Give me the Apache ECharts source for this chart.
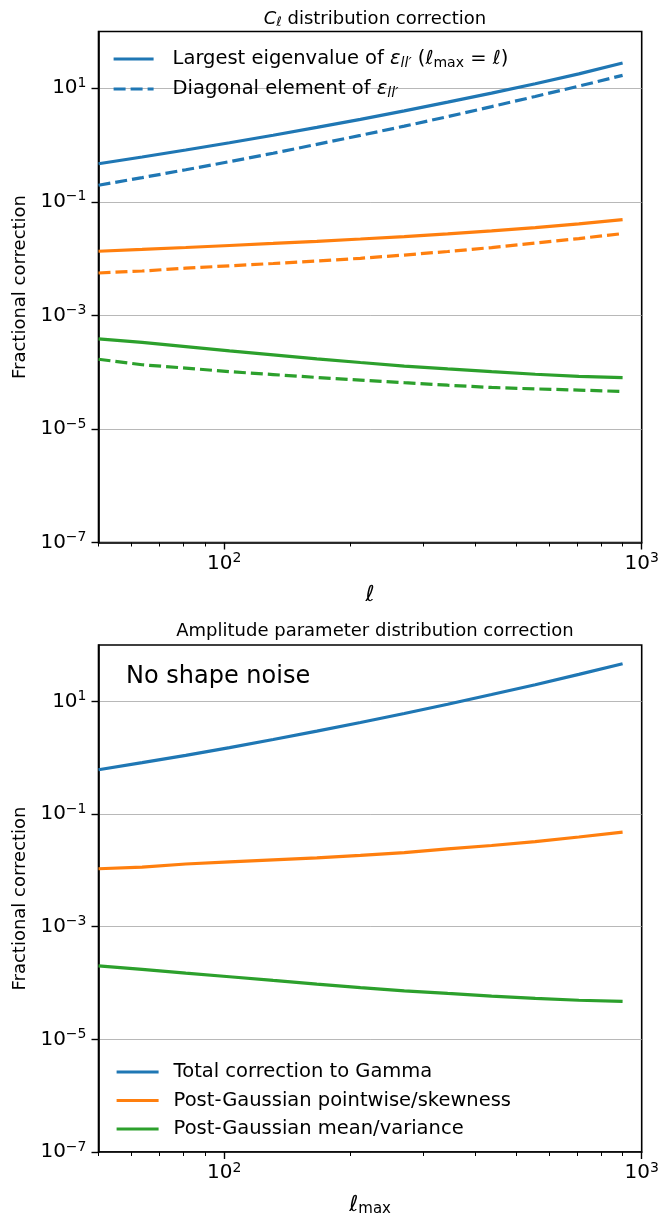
<!DOCTYPE html>
<html>
<head>
<meta charset="utf-8">
<script src="https://cdn.jsdelivr.net/npm/echarts@6/dist/echarts.min.js"></script>
<style>
  html, body { margin: 0; padding: 0; background: #fff; }
  #chart { width: 662px; height: 1218px; }
</style>
</head>
<body>
<div id="chart"></div>
<script>
// multipoles (x values, both panels)
const ell = [50, 63.6, 80.9, 103, 131, 166.7, 212, 270, 343, 437, 556, 707, 900];

// top panel: C_l distribution correction
const eigBlue   = [0.469, 0.615, 0.817, 1.10, 1.49, 2.05, 2.84, 4.0, 5.7, 8.2, 12.0, 17.9, 27.8];
const diagBlue  = [0.196, 0.267, 0.367, 0.510, 0.718, 1.03, 1.48, 2.15, 3.17, 4.75, 7.18, 10.9, 16.9];
const eigOrange = [0.01349, 0.01452, 0.01570, 0.01702, 0.01849, 0.02018, 0.02213, 0.02443, 0.02723, 0.03069, 0.03508, 0.04083, 0.04864];
const diagOrange = [0.00558, 0.00605, 0.00678, 0.00747, 0.00820, 0.00908, 0.01012, 0.01156, 0.01334, 0.01567, 0.01879, 0.02254, 0.02761];
const eigGreen  = [3.86e-4, 3.35e-4, 2.82e-4, 2.37e-4, 2.02e-4, 1.72e-4, 1.48e-4, 1.28e-4, 1.14e-4, 1.02e-4, 9.18e-5, 8.40e-5, 8.04e-5];
const diagGreen = [1.69e-4, 1.35e-4, 1.18e-4, 1.02e-4, 9.08e-5, 8.07e-5, 7.26e-5, 6.52e-5, 5.89e-5, 5.38e-5, 5.07e-5, 4.84e-5, 4.56e-5];

// bottom panel: amplitude parameter distribution correction
const totalGamma = [0.610, 0.815, 1.10, 1.51, 2.10, 2.96, 4.21, 6.08, 8.89, 13.2, 19.7, 30.1, 46.4];
const pointSkew  = [0.01066, 0.01138, 0.01295, 0.01410, 0.01531, 0.01665, 0.01841, 0.02056, 0.02399, 0.02761, 0.03236, 0.03909, 0.04766];
const meanVar    = [2.02e-4, 1.75e-4, 1.50e-4, 1.29e-4, 1.11e-4, 9.57e-5, 8.30e-5, 7.26e-5, 6.52e-5, 5.86e-5, 5.35e-5, 4.94e-5, 4.71e-5];

// ticks
const yTicks = [1e-7, 1e-5, 1e-3, 1e-1, 1e1];
const xMajor = [100, 1000];
const xMinor = [50, 60, 70, 80, 90, 200, 300, 400, 500, 600, 700, 800, 900];

const blue = '#1f77b4', orange = '#ff7f0e', green = '#2ca02c';
const FONT = 'DejaVu Sans';

const pow10 = v => {
  const e = Math.round(Math.log10(v));
  return '{b|10}{s|' + (e < 0 ? '\u2212' + (-e) : e) + '}';
};
const tickRich = {
  b: { fontSize: 20, fontFamily: FONT, color: '#000', lineHeight: 22 },
  s: { fontSize: 14, fontFamily: FONT, color: '#000', lineHeight: 14, padding: [0, 0, 10, 0] }
};
// italic / subscript tokens for the mathtext bits
const mathRich = (size) => {
  const small = Math.round(size * 0.7);
  const drop = Math.round(size * 0.4);
  return {
    i: { fontSize: size, fontFamily: FONT, fontStyle: 'italic', color: '#000', lineHeight: size + 4 },
    sb: { fontSize: small, fontFamily: FONT, fontStyle: 'italic', color: '#000', lineHeight: small, padding: [drop, 0, 0, 0] },
    r: { fontSize: small, fontFamily: FONT, color: '#000', lineHeight: small, padding: [drop, 0, 0, 0] }
  };
};

const pts = arr => arr.map((v, i) => [ell[i], v]);

function xAxes(gi, nameText) {
  return [
    {
      type: 'log', gridIndex: gi, position: 'bottom', min: 50, max: 1000,
      name: nameText, nameLocation: 'middle', nameGap: 40,
      nameTextStyle: { fontSize: 22, fontFamily: FONT, color: '#000', rich: mathRich(22) },
      axisLine: { lineStyle: { color: '#000', width: 1.6 } },
      axisTick: { customValues: xMajor, length: 7, lineStyle: { color: '#000', width: 1.4 } },
      axisLabel: { customValues: xMajor, margin: 10, formatter: pow10, rich: tickRich },
      splitLine: { show: false }
    },
    {
      // minor ticks only
      type: 'log', gridIndex: gi, position: 'bottom', min: 50, max: 1000,
      axisLine: { show: false },
      axisTick: { customValues: xMinor, length: 4, lineStyle: { color: '#000', width: 1 } },
      axisLabel: { show: false },
      splitLine: { show: false }
    }
  ];
}

function yAxis(gi) {
  return {
    type: 'log', gridIndex: gi, min: 1e-7, max: 100,
    name: 'Fractional correction', nameLocation: 'middle', nameGap: 68,
    nameTextStyle: { fontSize: 18, fontFamily: FONT, color: '#000' },
    axisLine: { lineStyle: { color: '#000', width: 1.6 } },
    axisTick: { customValues: yTicks, length: 7, lineStyle: { color: '#000', width: 1.4 } },
    axisLabel: { customValues: yTicks, margin: 12, formatter: pow10, rich: tickRich },
    splitLine: { show: true, lineStyle: { color: '#b0b0b0', width: 0.9 } }
  };
}

function line(name, data, color, dashed, gi) {
  return {
    name, type: 'line', xAxisIndex: gi * 2, yAxisIndex: gi,
    data: pts(data), symbol: 'none', smooth: false, z: 3,
    lineStyle: { color, width: 3.2, type: dashed ? [12, 5] : 'solid', cap: 'butt' },
    itemStyle: { color }
  };
}

const legendLabels = {
  'Largest eigenvalue': 'Largest eigenvalue of {i|\u03b5}{sb|ll\u2032} ({i|\u2113}{r|max} = {i|\u2113})',
  'Diagonal element': 'Diagonal element of {i|\u03b5}{sb|ll\u2032}',
  'Total correction to Gamma': 'Total correction to Gamma',
  'Post-Gaussian pointwise/skewness': 'Post-Gaussian pointwise/skewness',
  'Post-Gaussian mean/variance': 'Post-Gaussian mean/variance'
};

const chart = echarts.init(document.getElementById('chart'), null, { renderer: 'canvas' });
chart.setOption({
  animation: false,
  backgroundColor: '#fff',
  title: [
    { text: '{i|C}{sb|\u2113} distribution correction', left: 370, top: 3, textAlign: 'center',
      textStyle: { fontSize: 18, fontWeight: 'normal', fontFamily: FONT, color: '#000', lineHeight: 22, rich: mathRich(18) } },
    { text: 'Amplitude parameter distribution correction', left: 370, top: 617, textAlign: 'center',
      textStyle: { fontSize: 18, fontWeight: 'normal', fontFamily: FONT, color: '#000' } },
    { text: 'No shape noise', left: 121, top: 660,
      textStyle: { fontSize: 24, fontWeight: 'normal', fontFamily: FONT, color: '#000' } }
  ],
  grid: [
    { left: 98.5, top: 31.5, width: 543.2, height: 511, show: true, borderColor: '#000', borderWidth: 1.6 },
    { left: 98.5, top: 645, width: 543.2, height: 510, show: true, borderColor: '#000', borderWidth: 1.6 }
  ],
  xAxis: [...xAxes(0, '{i|\u2113}'), ...xAxes(1, '{i|\u2113}{r|max}')],
  yAxis: [yAxis(0), yAxis(1)],
  legend: [
    { data: ['Largest eigenvalue', 'Diagonal element'], orient: 'vertical', left: 112, top: 47,
      padding: 0, itemWidth: 40, itemHeight: 14, itemGap: 6,
      itemStyle: { opacity: 0 }, lineStyle: { width: 3.2 },
      formatter: n => legendLabels[n],
      textStyle: { fontSize: 19.5, fontFamily: FONT, color: '#000', lineHeight: 24, padding: [0, 0, 0, 14], rich: mathRich(19.5) } },
    { data: ['Total correction to Gamma', 'Post-Gaussian pointwise/skewness', 'Post-Gaussian mean/variance'],
      orient: 'vertical', left: 115, top: 1061, padding: 0, itemWidth: 42, itemHeight: 14, itemGap: 6.5,
      itemStyle: { opacity: 0 }, lineStyle: { width: 3.2 },
      formatter: n => legendLabels[n],
      textStyle: { fontSize: 19.5, fontFamily: FONT, color: '#000', lineHeight: 22, padding: [0, 0, 0, 10] } }
  ],
  series: [
    line('Largest eigenvalue', eigBlue, blue, false, 0),
    line('Diagonal element', diagBlue, blue, true, 0),
    line('eig orange', eigOrange, orange, false, 0),
    line('diag orange', diagOrange, orange, true, 0),
    line('eig green', eigGreen, green, false, 0),
    line('diag green', diagGreen, green, true, 0),
    line('Total correction to Gamma', totalGamma, blue, false, 1),
    line('Post-Gaussian pointwise/skewness', pointSkew, orange, false, 1),
    line('Post-Gaussian mean/variance', meanVar, green, false, 1)
  ]
});
</script>
</body>
</html>
